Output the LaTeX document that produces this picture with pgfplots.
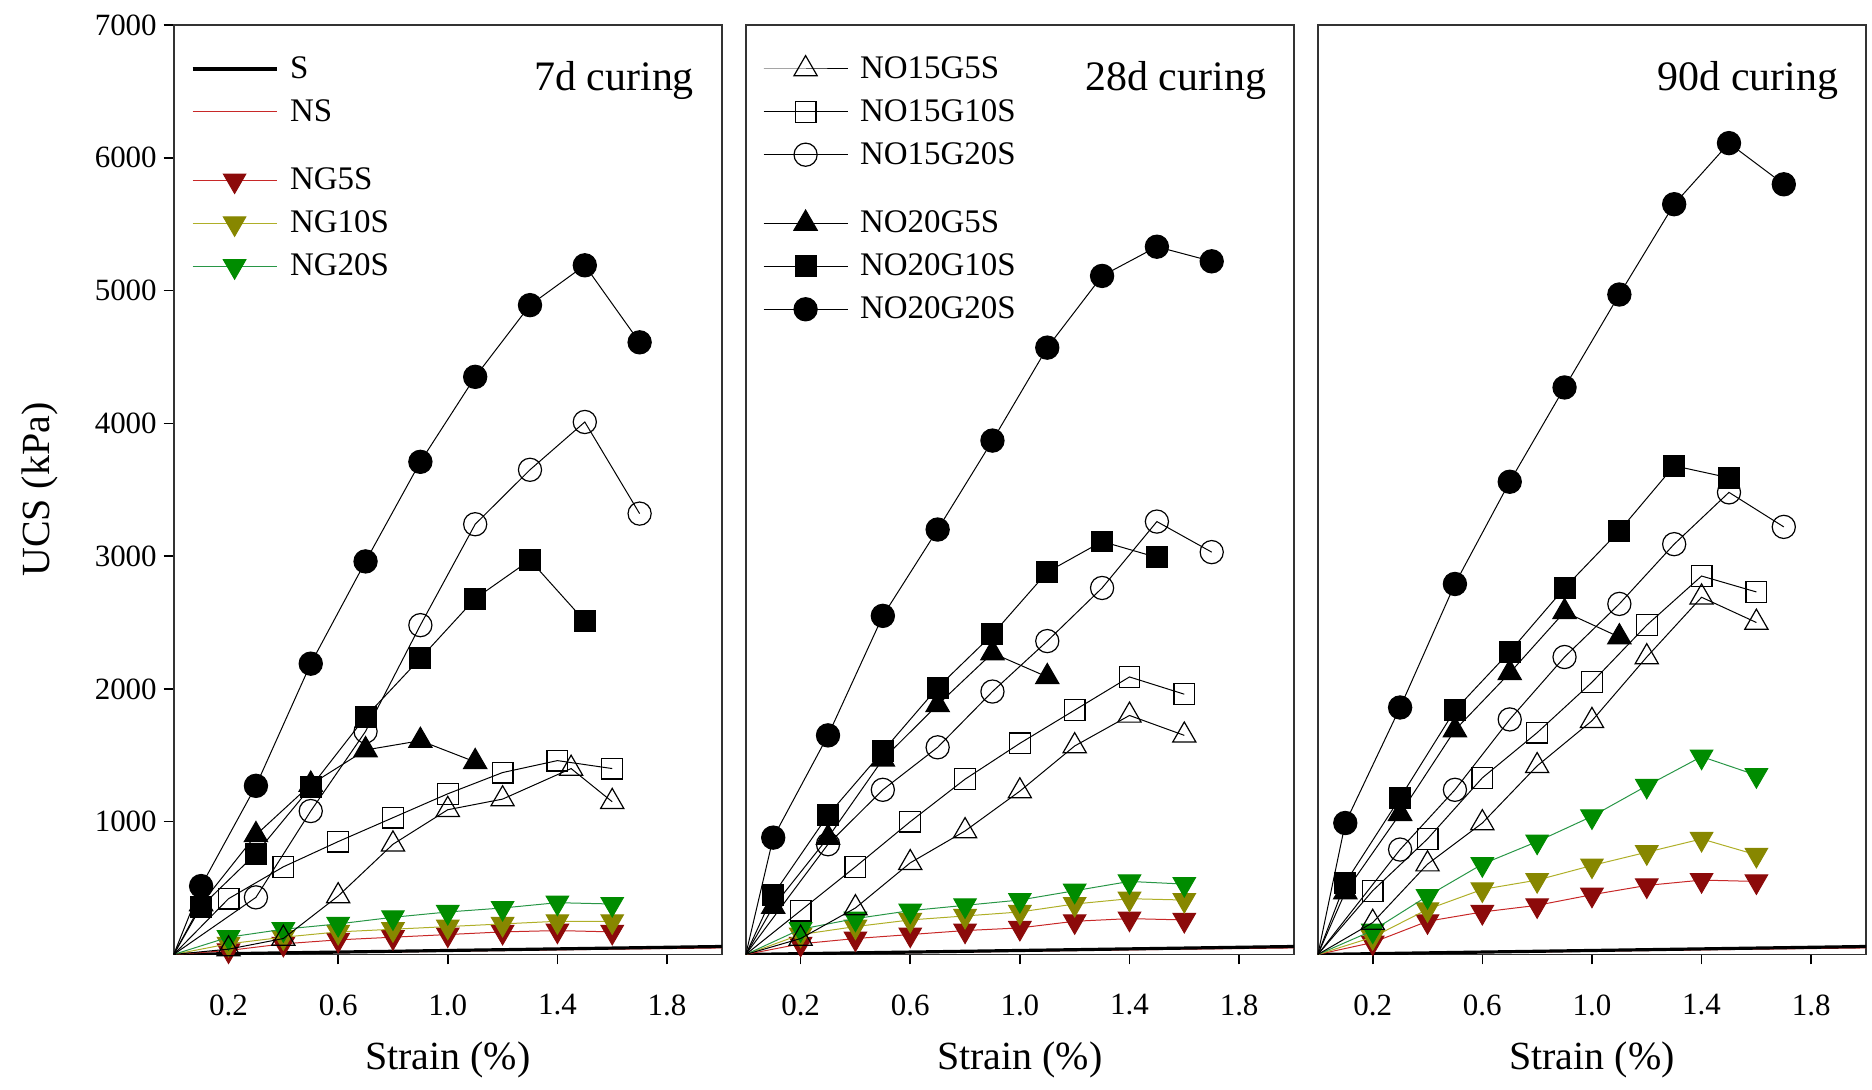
\documentclass[border=0pt]{standalone}
\usepackage{fontspec}
\setmainfont{Liberation Serif}
\usepackage{pgfplots}
\pgfplotsset{compat=1.18}

\definecolor{ngfive}{RGB}{140,10,10}
\definecolor{ngfiveline}{RGB}{200,40,40}
\definecolor{ngten}{RGB}{135,135,0}
\definecolor{ngtenline}{RGB}{175,175,40}
\definecolor{ngtwenty}{RGB}{0,140,0}
\definecolor{ngtwentyline}{RGB}{40,150,70}

\pgfplotsset{
  panel/.style={
    scale only axis, width=274.5pt, height=465.5pt,
    xmin=0, xmax=2, ymin=0, ymax=7000,
    clip mode=individual,
    axis line style={line width=0.9pt, black!80},
    tick style={line width=0.8pt, black},
    tick align=outside, tick pos=left,
    major tick length=5pt,
    xtick={0.2,0.6,1.0,1.4,1.8},
    xticklabel style={yshift=-11.5pt, /pgf/number format/.cd, fixed, fixed zerofill, precision=1},
    /pgf/number format/assume math mode=true,
    /pgf/number format/1000 sep={},
    ticklabel style={font=\fontsize{15.5}{18}\selectfont},
    xlabel={Strain (\%)},
    xlabel style={font=\fontsize{20}{22}\selectfont, at={(rel axis cs:0.5,0)}, anchor=center, yshift=-53pt},
    legend style={draw=none, fill=none, font=\fontsize{16.5}{18}\selectfont,
      at={(rel axis cs:0.02,0.975)}, anchor=north west,
      row sep=5pt, column sep=4pt, nodes={inner sep=2pt}},
    legend cell align=left,
    legend image code/.code={%
      \draw[#1, mark repeat=2, mark phase=2] plot coordinates {(0pt,0pt) (21pt,0pt) (42pt,0pt)};},
  },
  ser/.style={black, line width=0.5pt, mark repeat=1, mark phase=2, mark options={solid, line width=0.6pt}},
  cfill/.style={ser, mark=*, mark size=5.8pt},
  sfill/.style={ser, mark=square*, mark size=5.2pt},
  tfill/.style={ser, mark=triangle*, mark size=6.7pt},
  copen/.style={ser, mark=o, mark size=5.8pt},
  sopen/.style={ser, mark=square, mark size=5.2pt},
  topen/.style={ser, mark=triangle, mark size=6.7pt},
  ngfive/.style={ngfiveline, line width=0.5pt, mark=triangle*, mark size=6.5pt, mark repeat=1, mark phase=2,
    mark options={rotate=180, fill=ngfive, draw=ngfive}},
  ngten/.style={ngtenline, line width=0.5pt, mark=triangle*, mark size=6.5pt, mark repeat=1, mark phase=2,
    mark options={rotate=180, fill=ngten, draw=ngten}},
  ngtwenty/.style={ngtwentyline, line width=0.5pt, mark=triangle*, mark size=6.5pt, mark repeat=1, mark phase=2,
    mark options={rotate=180, fill=ngtwenty, draw=ngtwenty}},
  sline/.style={black, line width=1.6pt},
  nsline/.style={ngfiveline, line width=0.6pt},
}

\newcommand{\curing}[1]{\node[anchor=east, font=\fontsize{21}{23}\selectfont] at (rel axis cs:0.962,0.94) {#1};}

\begin{document}
\begin{tikzpicture}

% ---------------- 7d curing ----------------
\begin{axis}[panel, ytick={1000,2000,...,7000}]
\addlegendimage{sline}\addlegendentry{S}
\addlegendimage{nsline}\addlegendentry{NS}
\addlegendimage{empty legend}\addlegendentry{\rule{0pt}{2.5pt}}
\addlegendimage{ngfive}\addlegendentry{NG5S}
\addlegendimage{ngten}\addlegendentry{NG10S}
\addlegendimage{ngtwenty}\addlegendentry{NG20S}

\addplot[nsline, forget plot] coordinates {(0,0) (0.5,12) (1.0,25) (1.5,38) (2.0,50)};
\addplot[sline, forget plot] coordinates {(0,0) (0.5,15) (1.0,30) (1.5,45) (2.0,60)};
\addplot[ngfive, forget plot] coordinates {(0,0) (0.2,30) (0.4,80) (0.6,110) (0.8,130) (1.0,150) (1.2,170) (1.4,180) (1.6,170)};
\addplot[ngten, forget plot] coordinates {(0,0) (0.2,80) (0.4,130) (0.6,170) (0.8,190) (1.0,210) (1.2,230) (1.4,250) (1.6,250)};
\addplot[ngtwenty, forget plot] coordinates {(0,0) (0.2,130) (0.4,190) (0.6,230) (0.8,280) (1.0,320) (1.2,350) (1.4,390) (1.6,380)};

\addplot[topen, forget plot] coordinates {(0,0) (0.2,40) (0.4,120) (0.6,440) (0.8,830) (1.0,1090) (1.2,1170) (1.45,1400) (1.6,1150)};
\addplot[sopen, forget plot] coordinates {(0,0) (0.2,420) (0.4,660) (0.6,850) (0.8,1030) (1.0,1210) (1.2,1370) (1.4,1460) (1.6,1400)};
\addplot[copen, forget plot] coordinates {(0,0) (0.3,430) (0.5,1080) (0.7,1680) (0.9,2480) (1.1,3240) (1.3,3650) (1.5,4010) (1.7,3320)};
\addplot[tfill, forget plot] coordinates {(0,0) (0.1,380) (0.3,900) (0.5,1280) (0.7,1540) (0.9,1610) (1.1,1450)};
\addplot[sfill, forget plot] coordinates {(0,0) (0.1,360) (0.3,760) (0.5,1260) (0.7,1790) (0.9,2230) (1.1,2680) (1.3,2970) (1.5,2510)};
\addplot[cfill, forget plot] coordinates {(0,0) (0.1,515) (0.3,1270) (0.5,2190) (0.7,2960) (0.9,3710) (1.1,4350) (1.3,4890) (1.5,5190) (1.7,4610)};

\curing{7d curing}
\node[rotate=90, font=\fontsize{20}{22}\selectfont] at (rel axis cs:-0.245,0.5) {UCS (kPa)};
% page margins as in the reference
\node[inner sep=0pt] at ([xshift=-86.5pt, yshift=12pt]rel axis cs:0,1) {};
\node[inner sep=0pt] at ([yshift=-67pt]rel axis cs:0,0) {};
\end{axis}

% ---------------- 28d curing ----------------
\begin{axis}[panel, xshift=286.5pt, ytick=\empty]
\addplot[nsline, forget plot] coordinates {(0,0) (0.5,12) (1.0,25) (1.5,38) (2.0,50)};
\addplot[sline, forget plot] coordinates {(0,0) (0.5,15) (1.0,30) (1.5,45) (2.0,60)};
\addplot[ngfive, forget plot] coordinates {(0,0) (0.2,80) (0.4,120) (0.6,150) (0.8,180) (1.0,200) (1.2,250) (1.4,270) (1.6,260)};
\addplot[ngten, forget plot] coordinates {(0,0) (0.2,150) (0.4,210) (0.6,260) (0.8,290) (1.0,320) (1.2,380) (1.4,420) (1.6,410)};
\addplot[ngtwenty, forget plot] coordinates {(0,0) (0.2,190) (0.4,270) (0.6,330) (0.8,370) (1.0,410) (1.2,480) (1.4,550) (1.6,530)};

\addplot[topen] coordinates {(0,0) (0.2,120) (0.4,350) (0.6,690) (0.8,930) (1.0,1230) (1.2,1570) (1.4,1800) (1.6,1650)};
\addlegendentry{NO15G5S}
\addplot[sopen] coordinates {(0,0) (0.2,330) (0.4,660) (0.6,1000) (0.8,1320) (1.0,1590) (1.2,1840) (1.4,2090) (1.6,1960)};
\addlegendentry{NO15G10S}
\addplot[copen] coordinates {(0,0) (0.3,830) (0.5,1240) (0.7,1560) (0.9,1980) (1.1,2360) (1.3,2760) (1.5,3260) (1.7,3030)};
\addlegendentry{NO15G20S}
\addlegendimage{empty legend}\addlegendentry{\rule{0pt}{2.5pt}}
\addplot[tfill] coordinates {(0,0) (0.1,360) (0.3,880) (0.5,1470) (0.7,1880) (0.9,2270) (1.1,2090)};
\addlegendentry{NO20G5S}
\addplot[sfill] coordinates {(0,0) (0.1,450) (0.3,1050) (0.5,1530) (0.7,2010) (0.9,2410) (1.1,2880) (1.3,3110) (1.5,2990)};
\addlegendentry{NO20G10S}
\addplot[cfill] coordinates {(0,0) (0.1,880) (0.3,1650) (0.5,2550) (0.7,3200) (0.9,3870) (1.1,4570) (1.3,5110) (1.5,5330) (1.7,5220)};
\addlegendentry{NO20G20S}

\curing{28d curing}
\end{axis}

% ---------------- 90d curing ----------------
\begin{axis}[panel, xshift=573pt, ytick=\empty]
\addplot[nsline] coordinates {(0,0) (0.5,12) (1.0,25) (1.5,38) (2.0,50)};
\addplot[sline] coordinates {(0,0) (0.5,15) (1.0,30) (1.5,45) (2.0,60)};
\addplot[ngfive] coordinates {(0,0) (0.2,90) (0.4,250) (0.6,320) (0.8,370) (1.0,450) (1.2,520) (1.4,560) (1.6,550)};
\addplot[ngten] coordinates {(0,0) (0.2,130) (0.4,340) (0.6,490) (0.8,560) (1.0,670) (1.2,770) (1.4,870) (1.6,750)};
\addplot[ngtwenty] coordinates {(0,0) (0.2,180) (0.4,440) (0.6,680) (0.8,850) (1.0,1040) (1.2,1270) (1.4,1490) (1.6,1350)};

\addplot[topen] coordinates {(0,0) (0.2,240) (0.4,680) (0.6,990) (0.8,1420) (1.0,1760) (1.2,2240) (1.4,2690) (1.6,2500)};
\addplot[sopen] coordinates {(0,0) (0.2,480) (0.4,870) (0.6,1330) (0.8,1670) (1.0,2050) (1.2,2480) (1.4,2850) (1.6,2730)};
\addplot[copen] coordinates {(0,0) (0.3,790) (0.5,1240) (0.7,1770) (0.9,2240) (1.1,2640) (1.3,3090) (1.5,3480) (1.7,3220)};
\addplot[tfill] coordinates {(0,0) (0.1,470) (0.3,1060) (0.5,1690) (0.7,2120) (0.9,2580) (1.1,2390)};
\addplot[sfill] coordinates {(0,0) (0.1,540) (0.3,1180) (0.5,1840) (0.7,2280) (0.9,2760) (1.1,3190) (1.3,3680) (1.5,3590)};
\addplot[cfill] coordinates {(0,0) (0.1,990) (0.3,1860) (0.5,2790) (0.7,3560) (0.9,4270) (1.1,4970) (1.3,5650) (1.5,6110) (1.7,5800)};

\curing{90d curing}
\node[inner sep=0pt] at ([xshift=2.5pt]rel axis cs:1,0) {};
\end{axis}

\end{tikzpicture}
\end{document}
